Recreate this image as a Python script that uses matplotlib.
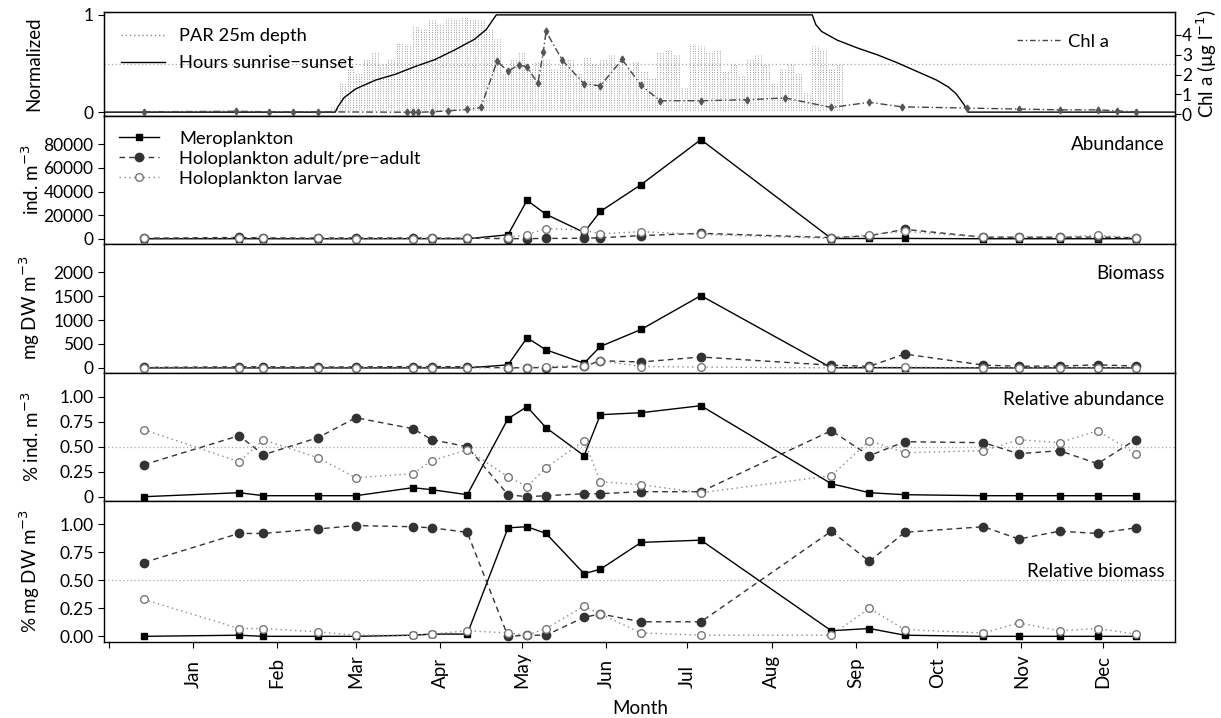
import matplotlib
matplotlib.use("Agg")
import matplotlib.pyplot as plt
from matplotlib.lines import Line2D
import matplotlib.transforms as mtransforms

plt.rcParams['font.family'] = ['Lato', 'DejaVu Sans']
plt.rcParams['axes.unicode_minus'] = True

# day of year, 0 = 1 Jan
month_ticks = [-31, 0, 31, 60, 91, 121, 152, 182, 213, 244, 274, 305, 335]
month_labels = ['', 'Jan', 'Feb', 'Mar', 'Apr', 'May', 'Jun', 'Jul', 'Aug', 'Sep', 'Oct', 'Nov', 'Dec']

# zooplankton sampling days
samp_day = [-18, 17, 26, 46, 60, 81, 88, 101, 116, 123, 130, 144, 150, 165, 187,
            235, 249, 262, 291, 304, 319, 333, 347]

mero_abund = [0, 70, 20, 10, 10, 90, 70, 20, 3400, 32600, 20700, 5400, 23200, 45900, 84000,
              200, 250, 290, 25, 30, 28, 45, 15]
adult_abund = [480, 1100, 760, 600, 710, 680, 570, 500, 90, 100, 300, 400, 850, 2700, 4600,
               1000, 2500, 8000, 1350, 1300, 1300, 1500, 850]
larv_abund = [1000, 630, 1020, 390, 170, 230, 360, 470, 870, 3600, 8700, 7400, 4250, 6000, 3700,
              300, 3400, 6400, 1150, 1700, 1500, 3000, 650]

mero_bio = [0, 0.3, 0, 0, 0, 0.3, 0.6, 0.5, 63, 630, 378, 98, 448, 804, 1511,
            3, 3.5, 3, 0.5, 0.3, 0.3, 0.5, 0.3]
adult_bio = [10, 23, 23, 19, 20, 29, 29, 23, 0.5, 6, 4, 30, 150, 124, 228,
             56, 33, 290, 59, 35, 38, 64, 39]
larv_bio = [5, 2, 2, 1, 0.2, 0.3, 0.6, 1.2, 2, 6, 29, 47, 150, 29, 18,
            1, 12.5, 19, 2, 5, 2, 5, 1]

mero_rel_ab = [0.00, 0.04, 0.01, 0.01, 0.01, 0.09, 0.07, 0.02, 0.78, 0.90, 0.69, 0.41, 0.82, 0.84, 0.91,
               0.13, 0.04, 0.02, 0.01, 0.01, 0.01, 0.01, 0.01]
adult_rel_ab = [0.32, 0.61, 0.42, 0.59, 0.79, 0.68, 0.57, 0.50, 0.02, 0.00, 0.01, 0.03, 0.03, 0.05, 0.05,
                0.66, 0.41, 0.55, 0.54, 0.43, 0.46, 0.33, 0.57]
larv_rel_ab = [0.67, 0.35, 0.57, 0.39, 0.19, 0.23, 0.36, 0.47, 0.20, 0.10, 0.29, 0.56, 0.15, 0.12, 0.04,
               0.21, 0.56, 0.44, 0.46, 0.57, 0.54, 0.66, 0.43]

mero_rel_bio = [0.00, 0.01, 0.00, 0.00, 0.00, 0.01, 0.02, 0.02, 0.97, 0.98, 0.92, 0.56, 0.60, 0.84, 0.86,
                0.05, 0.07, 0.01, 0.00, 0.00, 0.00, 0.00, 0.00]
adult_rel_bio = [0.66, 0.92, 0.92, 0.96, 0.99, 0.98, 0.97, 0.93, 0.00, 0.01, 0.01, 0.17, 0.20, 0.13, 0.13,
                 0.94, 0.67, 0.93, 0.98, 0.87, 0.94, 0.92, 0.97]
larv_rel_bio = [0.33, 0.07, 0.07, 0.04, 0.01, 0.01, 0.02, 0.05, 0.03, 0.01, 0.07, 0.27, 0.20, 0.03, 0.01,
                0.01, 0.25, 0.06, 0.03, 0.12, 0.05, 0.07, 0.02]

# normalized day length (sunrise-sunset)
sun_day = [-33, 52.4, 53.5, 55.7, 60, 67.3, 74.6, 81.9, 89.1, 96.4, 103.7, 108, 110.2, 111.7,
           228, 229.3, 231.4, 237.2, 244.6, 251.9, 259.1, 266.4, 273.7, 278, 280.9, 283.8, 285.3, 362]
sun_norm = [0, 0, 0.06, 0.15, 0.24, 0.33, 0.39, 0.47, 0.54, 0.64, 0.75, 0.85, 0.94, 1.0,
            1.0, 0.90, 0.83, 0.74, 0.66, 0.59, 0.51, 0.42, 0.33, 0.26, 0.19, 0.08, 0, 0]

# PAR at 25 m, peak per 3-day window (normalized), zero before day 52
par_day = [52, 55, 58, 61, 64, 67, 70, 73, 76, 79, 82, 85, 88, 91, 94, 97, 100, 103, 106, 109,
           112, 115, 118, 121, 124, 127, 130, 133, 136, 139, 142, 145, 148, 151, 154, 157, 160,
           163, 166, 169, 172, 175, 178, 181, 184, 187, 190, 193, 196, 199, 202, 205, 208, 211,
           214, 217, 220, 223, 226, 229, 232, 235, 238]
par_peak = [0.05, 0.30, 0.45, 0.40, 0.55, 0.62, 0.50, 0.55, 0.72, 0.70, 0.88, 0.85, 0.95, 0.92,
            0.97, 0.95, 0.98, 0.96, 0.95, 0.85, 0.75, 0.40, 0.55, 0.62, 0.45, 0.52, 0.55, 0.45,
            0.50, 0.55, 0.40, 0.58, 0.50, 0.55, 0.60, 0.50, 0.45, 0.52, 0.42, 0.35, 0.62, 0.65,
            0.60, 0.25, 0.70, 0.68, 0.62, 0.65, 0.42, 0.50, 0.38, 0.55, 0.60, 0.50, 0.30, 0.45,
            0.50, 0.40, 0.20, 0.68, 0.65, 0.45, 0.50]

# chlorophyll a (ug/l)
chl_day = [-18, 16, 28, 37, 46, 79, 81, 83, 88, 94, 101, 106, 112, 116, 120, 123, 127, 129, 130,
           136, 144, 150, 158, 165, 172, 187, 204, 218, 235, 249, 261, 285, 304, 319, 333, 340, 347]
chl_val = [0.12, 0.15, 0.12, 0.12, 0.12, 0.10, 0.10, 0.10, 0.12, 0.17, 0.24, 0.34, 2.67, 2.16,
           2.50, 2.38, 1.55, 3.15, 4.17, 2.72, 1.53, 1.43, 2.76, 1.45, 0.68, 0.68, 0.73, 0.82,
           0.34, 0.60, 0.37, 0.31, 0.26, 0.22, 0.22, 0.17, 0.12]

W, H = 1221, 718
fig = plt.figure(figsize=(W / 100, H / 100), dpi=100)

left = 104 / W
width = (1175 - 104) / W
edges = [12, 116, 243.5, 372.7, 501, 641.7]
axes = []
for i in range(5):
    top = 1 - edges[i] / H
    bot = 1 - edges[i + 1] / H
    axes.append(fig.add_axes([left, bot, width, top - bot]))

xlim = (-32.7, 361.5)
fs_tick = 12.5
fs_lab = 13.5
fs_leg = 13.2

mero_kw = dict(color='black', ls='-', lw=1.0, marker='s', ms=5, mfc='black', mec='black')
adult_kw = dict(color='#333333', ls=(0, (4, 3)), lw=1.0, marker='o', ms=6, mfc='#333333', mec='#333333')
larv_kw = dict(color='#888888', ls=(0, (1, 2.5)), lw=1.0, marker='o', ms=5.5, mfc='white', mec='#777777')

for ax in axes:
    ax.set_xlim(*xlim)
    ax.set_xticks(month_ticks)
    ax.tick_params(axis='both', direction='out', labelsize=fs_tick, length=4)
    for s in ax.spines.values():
        s.set_linewidth(1.0)
    ax.yaxis.set_label_coords(-0.058, 0.5)

# panel 1: environment
ax = axes[0]
ax.axhline(0.5, color='#aaaaaa', ls=(0, (1, 2)), lw=0.9)
ax.plot([xlim[0], par_day[0]], [0, 0], color='#999999', ls=(0, (1, 1.5)), lw=0.8)
for d, p in zip(par_day, par_peak):
    ax.vlines([d - 1, d, d + 1], 0.02, p, color='#8e8e8e', linestyles=(0, (1, 1.6)), lw=0.65)
par_line = Line2D([], [], color='#888888', ls=(0, (1, 2)), lw=1.0)
sun_line, = ax.plot(sun_day, sun_norm, color='black', lw=1.0)
ax.set_ylim(-0.04, 1.03)
ax.set_yticks([0, 1])
ax.set_yticklabels(['0', '1'])
ax.set_ylabel('Normalized', fontsize=fs_lab)
ax.tick_params(axis='x', labelbottom=False, length=0)
ax.legend([par_line, sun_line], ['PAR 25m depth', 'Hours sunrise\u2212sunset'],
          loc='upper left', frameon=False, fontsize=fs_leg,
          handlelength=2.4, handletextpad=0.8, borderaxespad=0.5, labelspacing=0.6)
ax2 = ax.twinx()
ax2.plot(chl_day, chl_val, color='#444444', ls=(0, (5, 2, 1, 2)), lw=1.0,
         marker='d', ms=3.5, mfc='#555555', mec='#555555')
chl_handle = Line2D([], [], color='#444444', ls=(0, (4, 2, 1, 2)), lw=1.0)
ax2.set_ylim(-0.09, 5.15)
ax2.set_yticks([0, 1, 2, 3, 4])
ax2.tick_params(axis='y', direction='out', labelsize=fs_tick, length=4, pad=1)
ax2.set_ylabel('Chl a (\u00b5g l$^{-1}$)', fontsize=fs_lab, labelpad=2)
ax2.legend([chl_handle], ['Chl a'], loc='upper right', bbox_to_anchor=(0.954, 0.95),
           frameon=False, fontsize=fs_leg, handlelength=2.4, handletextpad=0.4)

# panel 2: abundance
ax = axes[1]
ax.plot(samp_day, mero_abund, label='Meroplankton', **mero_kw)
ax.plot(samp_day, adult_abund, label='Holoplankton adult/pre\u2212adult', **adult_kw)
ax.plot(samp_day, larv_abund, label='Holoplankton larvae', **larv_kw)
ax.set_ylim(-4000, 104000)
ax.set_yticks([0, 20000, 40000, 60000, 80000])
ax.set_ylabel('ind. m$^{-3}$', fontsize=fs_lab)
ax.tick_params(axis='x', labelbottom=False, length=0)
ax.legend(loc='upper left', frameon=False, fontsize=fs_leg, handlelength=2.2,
          borderaxespad=0.4, labelspacing=0.22, handletextpad=1.1)
ax.text(0.99, 0.78, 'Abundance', transform=ax.transAxes, ha='right', va='center', fontsize=fs_lab)

# panel 3: biomass
ax = axes[2]
ax.plot(samp_day, mero_bio, **mero_kw)
ax.plot(samp_day, adult_bio, **adult_kw)
ax.plot(samp_day, larv_bio, **larv_kw)
ax.set_ylim(-100, 2600)
ax.set_yticks([0, 500, 1000, 1500, 2000])
ax.set_ylabel('mg DW m$^{-3}$', fontsize=fs_lab)
ax.tick_params(axis='x', labelbottom=False, length=0)
ax.text(0.99, 0.77, 'Biomass', transform=ax.transAxes, ha='right', va='center', fontsize=fs_lab)

# panel 4: relative abundance
ax = axes[3]
ax.axhline(0.5, color='#aaaaaa', ls=(0, (1, 2)), lw=0.9)
ax.plot(samp_day, mero_rel_ab, **mero_kw)
ax.plot(samp_day, adult_rel_ab, **adult_kw)
ax.plot(samp_day, larv_rel_ab, **larv_kw)
ax.set_ylim(-0.043, 1.24)
ax.set_yticks([0, 0.25, 0.5, 0.75, 1.0])
ax.set_yticklabels(['0', '0.25', '0.50', '0.75', '1.00'])
ax.set_ylabel('% ind. m$^{-3}$', fontsize=fs_lab)
ax.tick_params(axis='x', labelbottom=False, length=0)
ax.text(0.99, 0.795, 'Relative abundance', transform=ax.transAxes, ha='right', va='center', fontsize=fs_lab)

# panel 5: relative biomass
ax = axes[4]
ax.axhline(0.5, color='#aaaaaa', ls=(0, (1, 2)), lw=0.9)
ax.plot(samp_day, mero_rel_bio, **mero_kw)
ax.plot(samp_day, adult_rel_bio, **adult_kw)
ax.plot(samp_day, larv_rel_bio, **larv_kw)
ax.set_ylim(-0.048, 1.21)
ax.set_yticks([0, 0.25, 0.5, 0.75, 1.0])
ax.set_yticklabels(['0.00', '0.25', '0.50', '0.75', '1.00'])
ax.set_ylabel('% mg DW m$^{-3}$', fontsize=fs_lab)
ax.set_xticklabels([])
ax.text(0.99, 0.50, 'Relative biomass', transform=ax.transAxes, ha='right', va='center', fontsize=fs_lab)

# month labels: rotated, starting at a common baseline below the axis
trans = mtransforms.blended_transform_factory(ax.transData, fig.transFigure)
for d, lab in zip(month_ticks, month_labels):
    if lab:
        fig.text(d, 1 - 688 / H, lab, transform=trans, rotation=90, ha='center', va='bottom',
                 fontsize=13.5)
fig.text(left + width * (640 - 104) / (1175 - 104), 1 - 709 / H, 'Month', ha='center', va='center',
         fontsize=fs_lab)

fig.savefig('out.png', dpi=100)
